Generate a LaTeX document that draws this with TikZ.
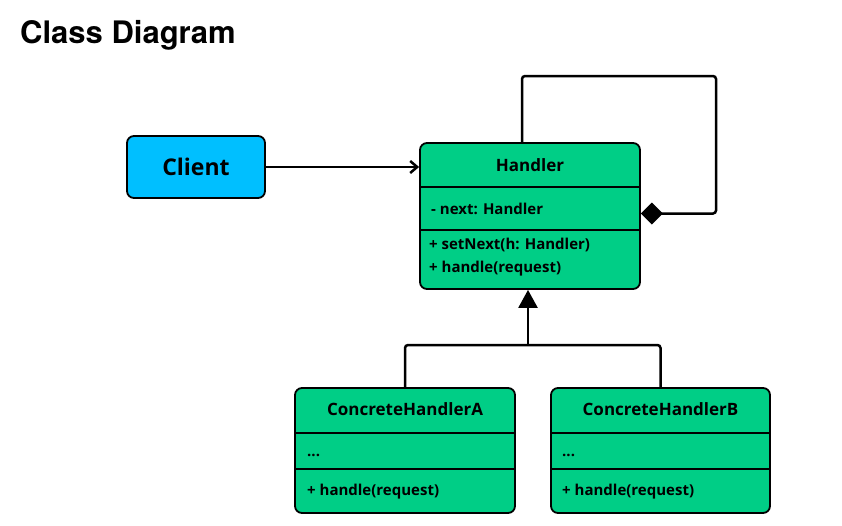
\documentclass[tikz,border=0pt]{standalone}
\usepackage{fontspec}
\setmainfont{Open Sans}
\newfontfamily\titlefont{TeX Gyre Heros}
\usetikzlibrary{positioning}
\usetikzlibrary{arrows.meta}
\definecolor{classgreen}{RGB}{0,206,134}
\definecolor{clientblue}{RGB}{0,191,255}

\begin{document}
\begin{tikzpicture}[
    x = 1pt,
    y = -1pt,
    ]

    \tikzstyle{classbox}=[
    draw = black,
    line width = 1.8pt,
    fill = classgreen,
    rounded corners = 7pt,
    inner sep = 0pt,
    ]
    \tikzstyle{classname}=[anchor=base, inner sep=0pt, font=\fontsize{17}{20}\selectfont\bfseries]
    \tikzstyle{member}=[anchor=base west, inner sep=0pt, font=\fontsize{15}{18}\selectfont\bfseries]
    \tikzstyle{divider}=[line width=1.8pt]
    \tikzstyle{link}=[line width=2.5pt, rounded corners=3pt]

    \useasboundingbox (0,0) rectangle (842,525);

    \node[anchor=base west, inner sep=0pt, font=\titlefont\fontsize{31}{36}\selectfont\bfseries] (title) at (20,43.5) {Class Diagram};

    \node[classbox, fill=clientblue, minimum width=138pt, minimum height=62pt] (client) at (196,167) {};
    \node[classname, font=\fontsize{23}{26}\selectfont\bfseries] (clientname) at (196,175) {Client};

    \node[classbox, minimum width=220pt, minimum height=146pt] (handler) at (530,216) {};
    \node[classname] (handlername) at (530,171) {Handler};
    \draw[divider] (420,187) -- (640,187);
    \draw[divider] (420,230) -- (640,230);
    \node[member] (nextattr) at (431,214) {- next: Handler};
    \node[member] (setnext) at (429,249) {+ setNext(h: Handler)};
    \node[member] (handleop) at (429,272) {+ handle(request)};

    \node[classbox, minimum width=220pt, minimum height=125pt] (cha) at (405,450.5) {};
    \node[classname] (chaname) at (405,415) {ConcreteHandlerA};
    \draw[divider] (295,433) -- (515,433);
    \draw[divider] (295,469) -- (515,469);
    \node[member] (chaattr) at (307,456) {...};
    \node[member] (chaop) at (307,495) {+ handle(request)};

    \node[classbox, minimum width=219pt, minimum height=125pt] (chb) at (660.5,450.5) {};
    \node[classname] (chbname) at (660.5,415) {ConcreteHandlerB};
    \draw[divider] (551,433) -- (770,433);
    \draw[divider] (551,469) -- (770,469);
    \node[member] (chbattr) at (562,456) {...};
    \node[member] (chbop) at (562,495) {+ handle(request)};

    \coordinate (looptop) at (716,76);
    \coordinate (joint) at (528,345);

    \draw[link, -{Straight Barb[length=7pt,width=12pt]}] (client.east) -- (handler.west |- client.east);
    \draw[link, -{Diamond[length=22pt,width=22pt]}] ([xshift=-8pt]handler.north) |- (looptop) |- ([yshift=2.5pt]handler.east);
    \draw[link, -{Triangle[length=18pt,width=19pt]}] (joint) -- ([xshift=-2pt]handler.south);
    \draw[link] (cha.north) |- (joint) -| (chb.north);
  \end{tikzpicture}
\end{document}
